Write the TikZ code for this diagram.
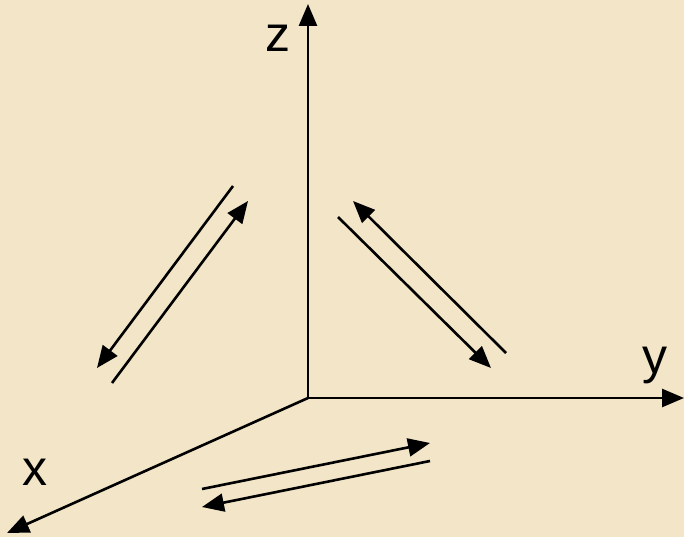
\documentclass[tikz,border=0pt]{standalone}
\usepackage{fontspec}
\setmainfont{Liberation Sans}
\usetikzlibrary{arrows.meta}
\definecolor{parch}{RGB}{243,229,199}
\tikzset{
  axis/.style={line width=2.6pt,-{Triangle[length=22pt,width=18pt]}},
  motion/.style={line width=2.6pt,-{Triangle[length=22pt,width=18pt]}},
  lbl/.style={font=\fontsize{50}{55}\selectfont,inner sep=0pt}
}
\begin{document}
\begin{tikzpicture}[x=1pt,y=-1pt]
\fill[parch] (0,0) rectangle (684,537);
\useasboundingbox (0,0) rectangle (684,537);
% axes
\coordinate (O) at (308,398);
\coordinate (Z) at (308,4);
\coordinate (Y) at (684,398);
\coordinate (X) at (7,533);
\draw[axis] (O) -- (Z);
\draw[axis] (O) -- (Y);
\draw[axis] (O) -- (X);
\node[lbl] (zl) at (278,38) {z};
\node[lbl] (yl) at (655,365) {y};
\node[lbl] (xl) at (35,472) {x};
% left pair
\coordinate (a1) at (233,186);
\coordinate (a2) at (97,368);
\coordinate (b1) at (112,383);
\coordinate (b2) at (248,201);
\draw[motion] (a1) -- (a2);
\draw[motion] (b1) -- (b2);
% right pair
\coordinate (c1) at (506,353);
\coordinate (c2) at (353,201);
\coordinate (d1) at (338,217);
\coordinate (d2) at (491,368);
\draw[motion] (c1) -- (c2);
\draw[motion] (d1) -- (d2);
% bottom pair
\coordinate (e1) at (202,489);
\coordinate (e2) at (430,443);
\coordinate (f1) at (430,461);
\coordinate (f2) at (202,507);
\draw[motion] (e1) -- (e2);
\draw[motion] (f1) -- (f2);
\end{tikzpicture}
\end{document}
